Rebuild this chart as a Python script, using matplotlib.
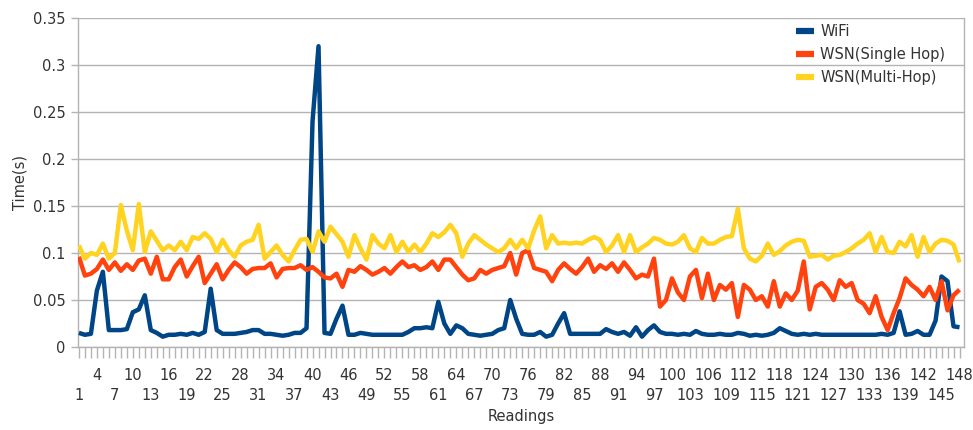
import matplotlib
matplotlib.use("Agg")
import matplotlib.pyplot as plt
from matplotlib.ticker import FixedLocator, FuncFormatter

readings = list(range(1, 149))

wifi = [
    0.015, 0.013, 0.014, 0.060, 0.080, 0.018, 0.018, 0.018, 0.019, 0.037,
    0.040, 0.055, 0.018, 0.015, 0.011, 0.013, 0.013, 0.014, 0.013, 0.015,
    0.013, 0.016, 0.062, 0.018, 0.014, 0.014, 0.014, 0.015, 0.016, 0.018,
    0.018, 0.014, 0.014, 0.013, 0.012, 0.013, 0.015, 0.015, 0.020, 0.240,
    0.320, 0.015, 0.014, 0.030, 0.044, 0.013, 0.013, 0.015, 0.014, 0.013,
    0.013, 0.013, 0.013, 0.013, 0.013, 0.016, 0.020, 0.020, 0.021, 0.020,
    0.048, 0.025, 0.014, 0.023, 0.020, 0.014, 0.013, 0.012, 0.013, 0.014,
    0.018, 0.020, 0.050, 0.030, 0.014, 0.013, 0.013, 0.016, 0.011, 0.013,
    0.025, 0.036, 0.014, 0.014, 0.014, 0.014, 0.014, 0.014, 0.019, 0.016,
    0.014, 0.016, 0.012, 0.021, 0.011, 0.018, 0.023, 0.016, 0.014, 0.014,
    0.013, 0.014, 0.013, 0.017, 0.014, 0.013, 0.013, 0.014, 0.013, 0.013,
    0.015, 0.014, 0.012, 0.013, 0.012, 0.013, 0.015, 0.020, 0.017, 0.014,
    0.013, 0.014, 0.013, 0.014, 0.013, 0.013, 0.013, 0.013, 0.013, 0.013,
    0.013, 0.013, 0.013, 0.013, 0.014, 0.013, 0.015, 0.038, 0.013, 0.014,
    0.017, 0.013, 0.013, 0.028, 0.075, 0.070, 0.022, 0.021,
]

wsn_single = [
    0.096, 0.076, 0.078, 0.083, 0.093, 0.082, 0.090, 0.081, 0.088, 0.082,
    0.092, 0.094, 0.078, 0.096, 0.072, 0.072, 0.085, 0.093, 0.075, 0.086,
    0.096, 0.068, 0.078, 0.088, 0.072, 0.082, 0.090, 0.085, 0.078, 0.083,
    0.084, 0.084, 0.089, 0.074, 0.083, 0.084, 0.084, 0.087, 0.082, 0.085,
    0.080, 0.074, 0.073, 0.078, 0.064, 0.082, 0.080, 0.086, 0.082, 0.077,
    0.080, 0.084, 0.078, 0.085, 0.091, 0.085, 0.087, 0.082, 0.085, 0.091,
    0.082, 0.093, 0.093, 0.085, 0.077, 0.071, 0.073, 0.082, 0.078, 0.082,
    0.084, 0.086, 0.100, 0.077, 0.100, 0.103, 0.084, 0.082, 0.080, 0.070,
    0.082, 0.089, 0.083, 0.078, 0.085, 0.094, 0.080, 0.087, 0.083, 0.089,
    0.080, 0.090, 0.082, 0.073, 0.077, 0.075, 0.094, 0.043, 0.050, 0.073,
    0.058, 0.050, 0.075, 0.082, 0.052, 0.078, 0.050, 0.066, 0.061, 0.068,
    0.032, 0.066, 0.061, 0.050, 0.054, 0.043, 0.070, 0.043, 0.057, 0.050,
    0.060, 0.091, 0.040, 0.064, 0.068, 0.061, 0.050, 0.071, 0.064, 0.068,
    0.050, 0.046, 0.036, 0.054, 0.032, 0.018, 0.036, 0.052, 0.073, 0.066,
    0.061, 0.054, 0.064, 0.050, 0.070, 0.039, 0.055, 0.061,
]

wsn_multi = [
    0.108, 0.094, 0.100, 0.098, 0.110, 0.094, 0.100, 0.151, 0.124, 0.103,
    0.152, 0.101, 0.123, 0.113, 0.103, 0.108, 0.103, 0.112, 0.103, 0.117,
    0.115, 0.121, 0.115, 0.101, 0.114, 0.103, 0.096, 0.108, 0.112, 0.114,
    0.130, 0.094, 0.101, 0.108, 0.098, 0.091, 0.103, 0.114, 0.115, 0.101,
    0.123, 0.112, 0.128, 0.120, 0.112, 0.096, 0.119, 0.105, 0.093, 0.119,
    0.110, 0.105, 0.119, 0.101, 0.112, 0.101, 0.109, 0.101, 0.110, 0.121,
    0.117, 0.122, 0.130, 0.121, 0.096, 0.110, 0.119, 0.114, 0.109, 0.105,
    0.101, 0.105, 0.114, 0.105, 0.114, 0.105, 0.124, 0.139, 0.105, 0.119,
    0.110, 0.111, 0.110, 0.111, 0.110, 0.114, 0.117, 0.114, 0.101, 0.108,
    0.119, 0.101, 0.119, 0.101, 0.106, 0.110, 0.116, 0.114, 0.110, 0.109,
    0.112, 0.119, 0.105, 0.101, 0.116, 0.110, 0.110, 0.114, 0.117, 0.118,
    0.147, 0.105, 0.094, 0.091, 0.097, 0.110, 0.098, 0.102, 0.108, 0.112,
    0.114, 0.113, 0.096, 0.097, 0.098, 0.093, 0.097, 0.098, 0.101, 0.105,
    0.110, 0.114, 0.121, 0.101, 0.117, 0.101, 0.100, 0.112, 0.107, 0.119,
    0.096, 0.117, 0.101, 0.110, 0.114, 0.113, 0.109, 0.090,
]

series_names = ["WiFi", "WSN(Single Hop)", "WSN(Multi-Hop)"]
series_colors = ["#004586", "#ff420e", "#ffd320"]
y_ticks = [0, 0.05, 0.1, 0.15, 0.2, 0.25, 0.3, 0.35]
y_tick_labels = ["0", "0.05", "0.1", "0.15", "0.2", "0.25", "0.3", "0.35"]
upper_row = list(range(4, 149, 6))   # 4, 10, ..., 148
lower_row = list(range(1, 149, 6))   # 1, 7, ..., 145

plt.rcParams["font.family"] = ["DejaVu Sans"]
txt_color = "#333333"
grid_color = "#b3b3b3"
fs = 10.5

fig = plt.figure(figsize=(9.73, 4.30), dpi=100)
ax = fig.add_axes([78 / 973, 1 - 347 / 430, (964 - 78) / 973, (347 - 18) / 430])

for vals, name, col in zip([wifi, wsn_single, wsn_multi], series_names, series_colors):
    ax.plot(readings, vals, color=col, lw=3.2, label=name,
            solid_capstyle="butt", zorder=3)

ax.set_xlim(0.85, 148.75)
ax.set_ylim(0, 0.35)
ax.set_yticks(y_ticks)
ax.set_yticklabels(y_tick_labels)
ax.yaxis.grid(True, color=grid_color, lw=1.0)
ax.set_axisbelow(True)

# upper row labels on major ticks, lower row labels on minor ticks
ax.xaxis.set_major_locator(FixedLocator(upper_row))
ax.xaxis.set_major_formatter(FuncFormatter(lambda v, p: str(int(round(v)))))
ax.xaxis.set_minor_locator(FixedLocator([r for r in readings if r not in upper_row]))
ax.xaxis.set_minor_formatter(
    FuncFormatter(lambda v, p: str(int(round(v))) if int(round(v)) in lower_row else ""))
ax.tick_params(axis="x", which="major", length=8, width=1, color=grid_color,
               direction="out", labelsize=fs, labelcolor=txt_color, pad=7)
ax.tick_params(axis="x", which="minor", length=8, width=1, color=grid_color,
               direction="out", labelsize=fs, labelcolor=txt_color, pad=21.5)
ax.tick_params(axis="y", which="major", length=5, width=1, color=grid_color,
               direction="out", labelsize=fs, labelcolor=txt_color, pad=4)

for s in ["left", "right", "bottom"]:
    ax.spines[s].set_color(grid_color)
    ax.spines[s].set_linewidth(1.0)
ax.spines["top"].set_visible(False)

ax.set_xlabel("Readings", fontsize=fs, color=txt_color, labelpad=4)
ax.set_ylabel("Time(s)", fontsize=fs, color=txt_color, labelpad=4)

leg = ax.legend(loc="upper left", bbox_to_anchor=(796 / 973, 1 - 24 / 430),
                bbox_transform=fig.transFigure, frameon=False, fontsize=fs,
                handlelength=1.25, handletextpad=0.4, labelspacing=0.55,
                borderpad=0, borderaxespad=0)
for t in leg.get_texts():
    t.set_color(txt_color)
for h in leg.get_lines():
    h.set_linewidth(4.5)

fig.savefig("out.png", dpi=100)
